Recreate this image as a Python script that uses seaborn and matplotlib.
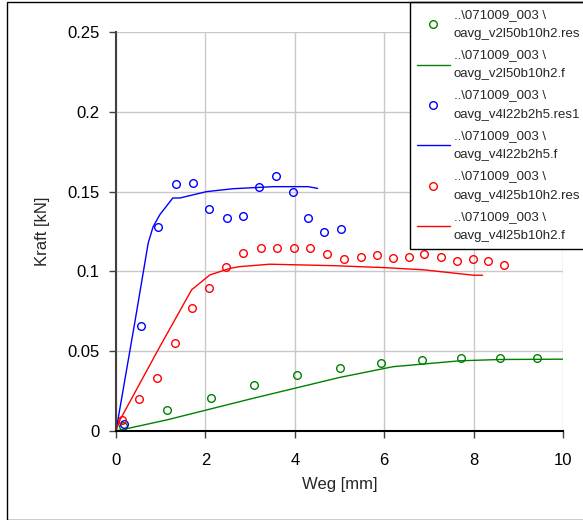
import pandas as pd
import matplotlib
matplotlib.use("Agg")
import matplotlib.pyplot as plt
from matplotlib.ticker import FuncFormatter
from matplotlib.patches import Rectangle
import seaborn as sns

# Messpunkte (res) und Fit-Kurven (f)
green_res_x = [0.16, 1.14, 2.13, 3.09, 4.05, 5.00, 5.93, 6.85, 7.71, 8.58, 9.41]
green_res_y = [0.003, 0.013, 0.0207, 0.0286, 0.0349, 0.0395, 0.0426, 0.0443, 0.0457, 0.0457, 0.0457]
green_f_x = [0.0, 1.13, 3.07, 5.01, 6.2, 7.7, 8.6, 10.0]
green_f_y = [0.0, 0.0069, 0.0205, 0.0336, 0.0403, 0.044, 0.0448, 0.045]

blue_res_x = [0.19, 0.55, 0.95, 1.34, 1.73, 2.09, 2.48, 2.85, 3.21, 3.57, 3.96, 4.30, 4.66, 5.03]
blue_res_y = [0.0042, 0.066, 0.128, 0.1546, 0.1554, 0.139, 0.1335, 0.135, 0.1531, 0.16, 0.15, 0.1335, 0.125, 0.1263]
blue_f_x = [0.0, 0.43, 0.72, 0.83, 0.98, 1.27, 1.43, 2.03, 2.62, 3.52, 4.30, 4.51]
blue_f_y = [0.0, 0.0696, 0.1177, 0.128, 0.1355, 0.146, 0.146, 0.150, 0.1518, 0.1531, 0.1531, 0.152]

red_res_x = [0.13, 0.52, 0.92, 1.31, 1.70, 2.09, 2.45, 2.85, 3.24, 3.60, 3.99, 4.35, 4.72,
             5.09, 5.47, 5.85, 6.19, 6.55, 6.90, 7.26, 7.63, 7.98, 8.33, 8.69]
red_res_y = [0.0069, 0.020, 0.0332, 0.0551, 0.0771, 0.0896, 0.103, 0.1115, 0.1147, 0.1147, 0.1147, 0.1147, 0.1107,
             0.1076, 0.1092, 0.110, 0.1084, 0.1092, 0.111, 0.109, 0.1067, 0.1076, 0.1067, 0.1038]
red_f_x = [0.0, 0.09, 0.98, 1.69, 2.1, 2.55, 2.77, 3.44, 4.86, 5.98, 6.88, 8.0, 8.2]
red_f_y = [0.0, 0.007, 0.0528, 0.0884, 0.0978, 0.1019, 0.103, 0.1045, 0.1036, 0.1024, 0.101, 0.0976, 0.0976]

prefix = "..\\071009_003 \\\n"
labels = ["oavg_v2l50b10h2.res", "oavg_v2l50b10h2.f",
          "oavg_v4l22b2h5.res1", "oavg_v4l22b2h5.f",
          "oavg_v4l25b10h2.res", "oavg_v4l25b10h2.f"]

sns.set_style("white")
plt.rcParams['font.family'] = ['Liberation Sans', 'DejaVu Sans']

fig = plt.figure(figsize=(5.83, 5.2), dpi=100)
ax = fig.add_axes([116 / 583, 1 - 431 / 520, (563 - 116) / 583, (431 - 32) / 520])

series = [
    (green_res_x, green_res_y, green_f_x, green_f_y, "#008000", labels[0], labels[1]),
    (blue_res_x, blue_res_y, blue_f_x, blue_f_y, "#0000ff", labels[2], labels[3]),
    (red_res_x, red_res_y, red_f_x, red_f_y, "#ff0000", labels[4], labels[5]),
]

for rx, ry, fx, fy, col, lab_res, lab_f in series:
    sns.lineplot(x=rx, y=ry, ax=ax, estimator=None, sort=False, color=col,
                 marker='o', linestyle='none', markersize=5.5, markerfacecolor='none',
                 markeredgecolor=col, markeredgewidth=1.0, label=prefix + lab_res)
    sns.lineplot(x=fx, y=fy, ax=ax, estimator=None, sort=False, color=col,
                 linewidth=1.0, label=prefix + lab_f)

ax.set_xlim(0, 10)
ax.set_ylim(0, 0.25)
ax.set_xticks([0, 2, 4, 6, 8, 10])
ax.set_yticks([0, 0.05, 0.1, 0.15, 0.2, 0.25])
ax.yaxis.set_major_formatter(FuncFormatter(lambda v, p: "%g" % round(v, 3)))
ax.grid(True, color="#c8c8c8", linewidth=1.0)
ax.set_axisbelow(True)
for s in ["top", "right"]:
    ax.spines[s].set_visible(False)
ax.spines["left"].set_color("#404040")
ax.spines["left"].set_linewidth(1.5)
ax.spines["bottom"].set_color("black")
ax.spines["bottom"].set_linewidth(1.5)
ax.tick_params(axis='both', direction='out', length=5, width=1, colors='#404040',
               labelcolor='black', labelsize=12, left=True, bottom=True)
ax.tick_params(axis='x', pad=11)
ax.tick_params(axis='y', pad=7)
ax.set_xlabel("Weg [mm]", fontsize=12, labelpad=6)
ax.set_ylabel("Kraft [kN]", fontsize=12, labelpad=12)

leg = ax.legend(loc='upper left', bbox_to_anchor=(410 / 583, 1 - 2 / 520),
                bbox_transform=fig.transFigure, borderaxespad=0, fontsize=9.5,
                frameon=True, fancybox=False, edgecolor='black', framealpha=1,
                borderpad=0.5, handlelength=2.5, handletextpad=0.3, labelspacing=0.7)
leg.get_frame().set_linewidth(1.0)
for t in leg.get_texts():
    t.set_linespacing(1.8)

# Rahmen um die Grafik
fig.patches.append(Rectangle((7 / 583, 0.0), 1.2, 1 - 2 / 520, transform=fig.transFigure,
                             fill=False, edgecolor='black', linewidth=1.0))

fig.savefig("out.png", dpi=100)
